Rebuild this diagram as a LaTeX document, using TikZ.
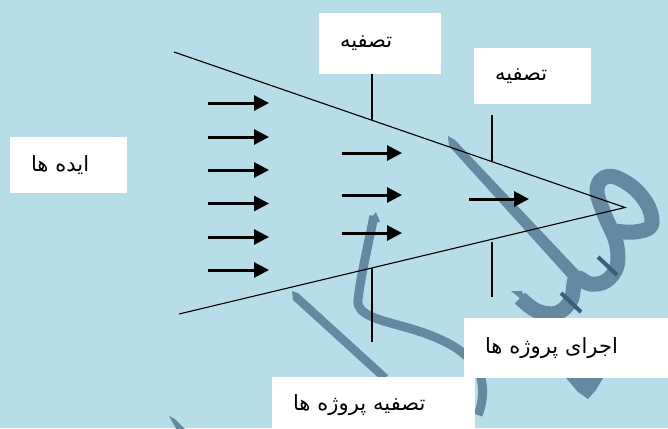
\documentclass[tikz,border=0pt]{standalone}
\usepackage{fontspec}
\TeXXeTstate=1
\newfontfamily\fa[Script=Arabic]{DejaVu Sans}
\usetikzlibrary{arrows.meta}
\definecolor{bg}{RGB}{183,221,232}
\definecolor{wm}{RGB}{101,137,160}
\definecolor{wmdark}{RGB}{58,94,124}
\tikzset{
  box/.style={fill=white, draw=none, inner xsep=21pt, inner ysep=0pt, align=left,
    font=\fa\fontsize{21}{24}\selectfont},
  flow/.style={line width=3pt, -{Triangle[length=15pt, width=15pt]}},
  funnel/.style={line width=1.1pt, black},
  tick/.style={line width=1.3pt, black},
  wmline/.style={wm, line width=9pt},
}
\begin{document}
\begin{tikzpicture}[x=1pt, y=-1pt]
\clip (0,0) rectangle (668,428);
\fill[bg] (0,0) rectangle (668,428);
% watermark
\fill[wm] (448,136) -- (455,140) -- (578,270) -- (570,280) -- (449,146) -- cycle;
\draw[wm, line width=15pt, line join=round]
  plot[smooth, tension=0.6] coordinates {(520,298) (537,311) (557,313) (571,300) (576,278)
   (590,284) (606,281) (617,266) (616,242) (605,216) (597,192) (602,179) (615,177)
   (635,189) (649,208) (651,226) (635,232) (614,231)};
\fill[wm] (511,291) -- (522,291) -- (526,303) -- cycle;
\draw[wmdark, line width=4pt] (598,257) -- (617,275);
\draw[wmdark, line width=4pt] (561,293) -- (581,312);
\draw[wmline] (374,216) .. controls (368,245) and (360,280) .. (358,300)
   .. controls (356,315) and (380,320) .. (405,327)
   .. controls (440,337) and (470,350) .. (480,375)
   .. controls (485,390) and (482,405) .. (478,415);
\fill[wm] (376,212) -- (380,222) -- (368,222) -- cycle;
\fill[wm] (292,291) -- (298,293) -- (388,375) -- (382,381) -- (293,300) -- cycle;
\fill[wm] (169,416) -- (175,419) -- (188,432) -- (178,432) -- cycle;
\fill[wm] (566,378) -- (603,378) -- (596,390) -- (588,399) -- (578,392) -- cycle;
% funnel
\coordinate (fu) at (174,52);
\coordinate (ftip) at (625,207.5);
\coordinate (fl) at (179,314);
\draw[funnel] (fu) -- (ftip) -- (fl);
% boxes
\node[box, text width=80pt, minimum height=61pt] (b1) at (380,43.5) {\beginR تصفیه\endR};
\node[box, text width=75pt, minimum height=56pt] (b2) at (532.5,76) {\beginR تصفیه\endR};
\node[box, text width=75pt, minimum height=56pt] (ideas) at (68.5,165) {\beginR ایده ها\endR};
\node[box, text width=162pt, minimum height=60pt] (exec) at (566,348) {\beginR اجرای پروژه ها\endR};
\node[box, text width=161pt, minimum height=56pt] (filt) at (373.5,405) {\beginR تصفیه پروژه ها\endR};
% ticks
\coordinate (t1a) at (372,74);
\coordinate (t1b) at (372,120);
\coordinate (t1c) at (372,268);
\coordinate (t1d) at (372,342);
\coordinate (t2a) at (492,115);
\coordinate (t2b) at (492,161);
\coordinate (t2c) at (492,242);
\coordinate (t2d) at (492,297);
\draw[tick] (t1a) -- (t1b);
\draw[tick] (t1c) -- (t1d);
\draw[tick] (t2a) -- (t2b);
\draw[tick] (t2c) -- (t2d);
% arrows
\foreach \y [count=\i] in {103,137,170,203.5,237,270} {
  \coordinate (la\i) at (208,\y);
  \coordinate (lb\i) at (269,\y);
  \draw[flow] (la\i) -- (lb\i);
}
\foreach \y [count=\i] in {153,195,233} {
  \coordinate (ma\i) at (342,\y);
  \coordinate (mb\i) at (402,\y);
  \draw[flow] (ma\i) -- (mb\i);
}
\coordinate (ra) at (469,199);
\coordinate (rb) at (529,199);
\draw[flow] (ra) -- (rb);
\end{tikzpicture}
\end{document}
